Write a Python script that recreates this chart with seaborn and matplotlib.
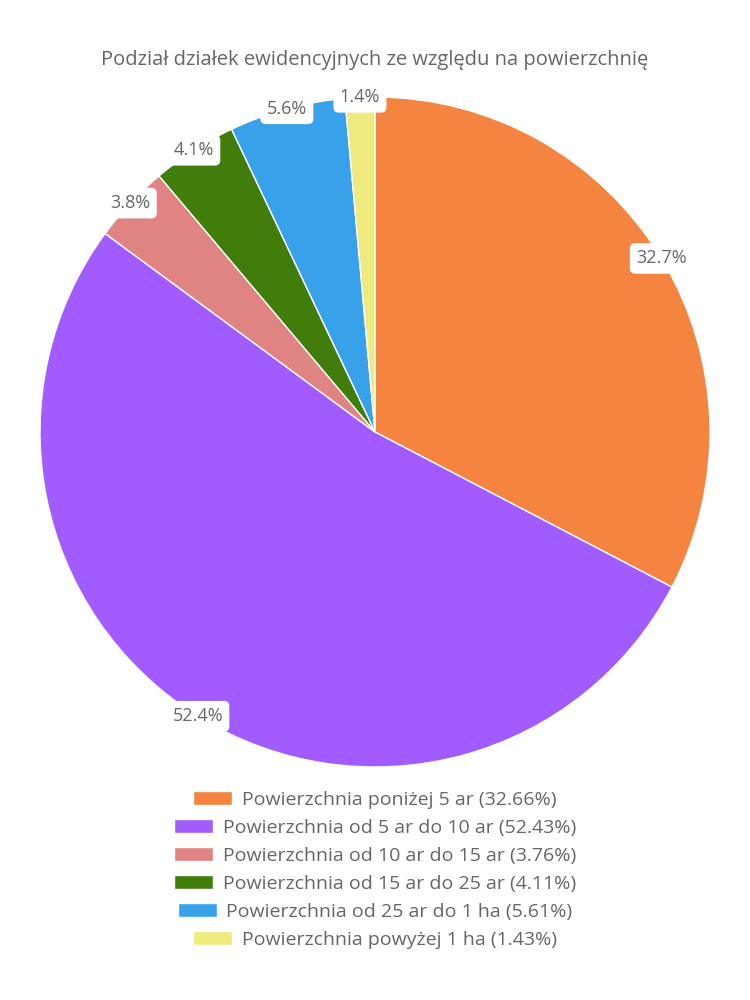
import matplotlib
matplotlib.use('Agg')
import matplotlib.pyplot as plt
import seaborn as sns
import numpy as np

title = 'Podział działek ewidencyjnych ze względu na powierzchnię'
categories = ['Powierzchnia poniżej 5 ar', 'Powierzchnia od 5 ar do 10 ar',
              'Powierzchnia od 10 ar do 15 ar', 'Powierzchnia od 15 ar do 25 ar',
              'Powierzchnia od 25 ar do 1 ha', 'Powierzchnia powyżej 1 ha']
shares = [32.66, 52.43, 3.76, 4.11, 5.61, 1.43]
colors = ['#F4843F', '#A25BFF', '#E08383', '#407D0B', '#37A1EA', '#EFEA7E']

sns.set_theme(style='white')
plt.rcParams['font.family'] = ['Open Sans', 'DejaVu Sans']
text_col = '#666666'

fig = plt.figure(figsize=(7.5, 10), dpi=100)
fig.text(0.5, 0.94, title, ha='center', va='center', fontsize=14.5, color=text_col)

# pie axes: center (375, 432) px, radius 335 px
ax = fig.add_axes([40 / 750, 233 / 1000, 670 / 750, 670 / 1000])
wedges, _ = ax.pie(shares, colors=colors, startangle=90, counterclock=False,
                   radius=1, wedgeprops=dict(edgecolor='white', linewidth=1))
ax.set_xlim(-1, 1)
ax.set_ylim(-1, 1)
ax.set_aspect('equal')
ax.axis('off')

for w, v in zip(wedges, shares):
    ang = np.deg2rad((w.theta1 + w.theta2) / 2)
    ax.text(np.cos(ang), np.sin(ang), f'{v:.1f}%', ha='center', va='center',
            fontsize=13, color=text_col,
            bbox=dict(boxstyle='round,pad=0.35,rounding_size=0.3', fc='white', ec='none'))

# one centred legend row per category
for i, (w, c, v) in enumerate(zip(wedges, categories, shares)):
    y = (1000 - (800 + 28 * i)) / 1000
    fig.legend([w], [f'{c} ({v:.2f}%)'], loc='center', bbox_to_anchor=(0.5, y),
               frameon=False, fontsize=14, handlelength=2.0, handleheight=0.75,
               handletextpad=0.5, borderpad=0, labelcolor=text_col)

fig.savefig('out.png', dpi=100)
